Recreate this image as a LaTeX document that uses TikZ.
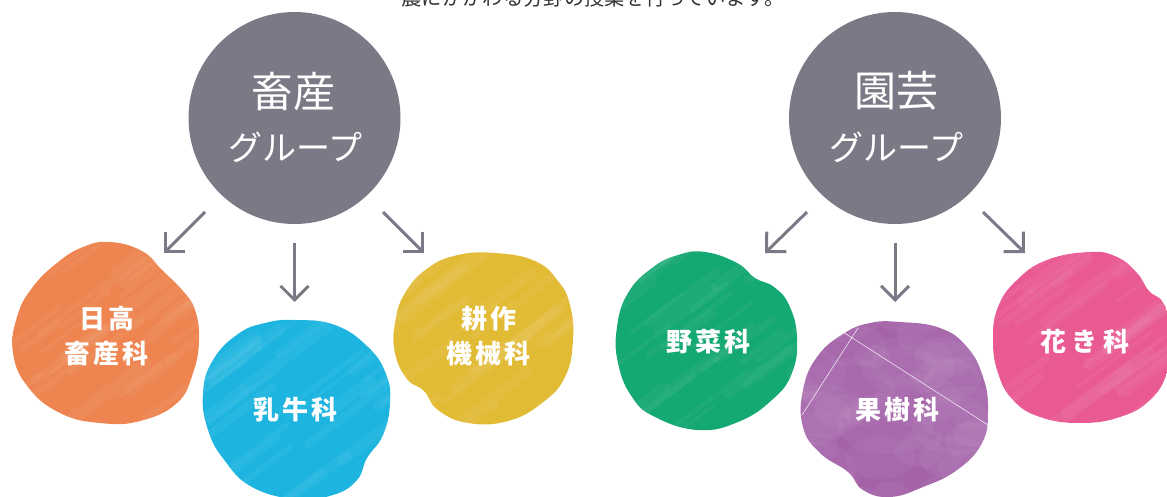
\documentclass[tikz,border=0pt]{standalone}
\usepackage{fontspec}
\newfontfamily\jp{Noto Sans CJK JP}
\newfontfamily\jplab{Noto Sans CJK JP}[LetterSpace=12]
\newfontfamily\jplabw{Noto Sans CJK JP}[LetterSpace=22]
\usetikzlibrary{arrows.meta}
\definecolor{grpgray}{HTML}{797A85}
\definecolor{introtxt}{HTML}{333333}
\definecolor{cOrange}{HTML}{EE8550}
\definecolor{cBlue}{HTML}{1DB5DF}
\definecolor{cYellow}{HTML}{E2BB35}
\definecolor{cGreen}{HTML}{14A872}
\definecolor{cPurple}{HTML}{A462A9}
\definecolor{cPink}{HTML}{E95A93}
\tikzset{
  groupcircle/.style={circle, fill=grpgray, minimum size=212pt, inner sep=0pt},
  grouptitle/.style={text=white, inner sep=0pt, font=\jp\fontsize{42}{42}\selectfont},
  groupsub/.style={text=white, inner sep=0pt, font=\jp\fontsize{34}{34}\selectfont},
  flow/.style={draw=grpgray, line width=3pt, -{Straight Barb[length=14pt,width=28pt]}},
  deptlabel/.style={text=white, align=center, inner sep=0pt, xshift=1.6pt,
    font=\jplab\bfseries\fontsize{26}{35}\selectfont},
  deptlabelwide/.style={text=white, align=center, inner sep=0pt, xshift=2.9pt,
    font=\jplabw\bfseries\fontsize{26}{35}\selectfont},
  streak/.style={draw=white, line cap=round, opacity=0.045},
  seam/.style={draw=white!85!cPurple, line width=0.6pt},
}
% painted texture: faint diagonal strokes around (#1,#2)
\newcommand\paintstreaks[3]{%
  \pgfmathsetseed{#3}%
  \foreach \k in {1,...,40}{%
    \pgfmathsetmacro\xa{#1-110+220*rnd}%
    \pgfmathsetmacro\ya{#2-100+200*rnd}%
    \pgfmathsetmacro\lw{3+10*rnd}%
    \pgfmathsetmacro\ln{30+60*rnd}%
    \draw[streak, line width=\lw pt] (\xa,\ya) -- ++(\ln,-0.75*\ln);
  }%
}
% watercolour mottling: faint soft patches around (#1,#2)
\newcommand\paintmottle[3]{%
  \pgfmathsetseed{#3}%
  \foreach \k in {1,...,45}{%
    \pgfmathsetmacro\xa{#1-100+200*rnd}%
    \pgfmathsetmacro\ya{#2-100+200*rnd}%
    \pgfmathsetmacro\rr{10+22*rnd}%
    \fill[white, opacity=0.04] (\xa,\ya) ellipse ({1.6*\rr pt} and {\rr pt});
  }%
}
\begin{document}
\begin{tikzpicture}[x=1pt,y=-1pt]
\useasboundingbox (0,0) rectangle (1167,497);
\clip (0,0) rectangle (1167,497);

% intro line (cut by the top edge, as in the original)
\node[anchor=base, inner sep=0pt, text=introtxt, font=\jp\fontsize{20.3}{20}\selectfont]
  (intro) at (593,6) {農にかかわる分野の授業を行っています。};

% group circles
\node[groupcircle] (gA) at (294.5,118) {};
\node[grouptitle] (gAt) at (293,91) {畜産};
\node[groupsub] (gAs) at (295,147) {グループ};
\node[groupcircle] (gB) at (895,118) {};
\node[grouptitle] (gBt) at (896,91) {園芸};
\node[groupsub] (gBs) at (896,147) {グループ};

% blobs
\begin{scope}
\clip plot[smooth cycle, tension=0.75] coordinates {
 (110,242) (142,251) (162,270) (183,291) (195,310) (199,340) (193,373) (177,403)
 (140,421) (100,423) (60,413) (28,387) (13,353) (17,317) (32,288) (57,263) (83,247)};
\fill[cOrange] (0,230) rectangle (210,430);
\paintstreaks{106}{333}{11}
\end{scope}
\begin{scope}
\clip plot[smooth cycle, tension=0.75] coordinates {
 (295,320) (335,325) (368,347) (386,374) (390,403) (383,435) (367,458) (357,480)
 (333,495) (295,499) (252,487) (225,461) (208,430) (203,393) (213,360) (238,334) (265,323)};
\fill[cBlue] (195,310) rectangle (400,500);
\paintstreaks{296}{410}{23}
\end{scope}
\begin{scope}
\clip plot[smooth cycle, tension=0.75] coordinates {
 (495,253) (535,261) (558,281) (570,305) (573,340) (565,377) (542,403) (508,421)
 (468,423) (438,410) (424,391) (407,379) (395,353) (395,323) (405,293) (428,268) (458,255)};
\fill[cYellow] (385,245) rectangle (580,430);
\paintstreaks{485}{338}{37}
\end{scope}
\begin{scope}
\clip plot[smooth cycle, tension=0.75] coordinates {
 (705,252) (737,263) (755,278) (774,287) (789,305) (797,337) (792,373) (772,400)
 (738,422) (698,430) (655,417) (632,397) (618,363) (617,327) (628,293) (652,268) (678,255)};
\fill[cGreen] (605,245) rectangle (805,435);
\paintstreaks{707}{342}{41}
\end{scope}
\begin{scope}
\clip plot[smooth cycle, tension=0.75] coordinates {
 (900,322) (940,328) (967,347) (983,377) (988,410) (982,443) (957,470) (923,487)
 (890,497) (863,490) (848,472) (820,453) (803,427) (803,390) (817,357) (843,334) (870,323)};
\fill[cPurple] (795,315) rectangle (995,500);
\paintmottle{896}{410}{53}
\end{scope}
\begin{scope}
\clip plot[smooth cycle, tension=0.75] coordinates {
 (1090,252) (1117,257) (1137,273) (1149,291) (1162,301) (1169,320) (1170,345) (1167,373)
 (1150,400) (1120,417) (1080,423) (1040,417) (1013,400) (998,373) (993,340) (998,307) (1017,280) (1047,260)};
\fill[cPink] (985,245) rectangle (1170,430);
\paintstreaks{1082}{338}{67}
\end{scope}

% thin seams across the purple blob
\coordinate (s1a) at (843,332);
\coordinate (s1b) at (988,425);
\coordinate (s2a) at (858,328);
\coordinate (s2b) at (802,415);
\draw[seam] (s1a) -- (s1b);
\draw[seam] (s2a) -- (s2b);

% department labels
\node[deptlabel] (dA1) at (105,336) {日高\\畜産科};
\node[deptlabel] (dA2) at (294,410) {乳牛科};
\node[deptlabel] (dA3) at (487,336) {耕作\\機械科};
\node[deptlabel] (dB1) at (707,342) {野菜科};
\node[deptlabel] (dB2) at (896,410) {果樹科};
\node[deptlabelwide] (dB3) at (1082,342) {花き科};

% arrows
\coordinate (a1s) at (205,212);  \coordinate (a1e) at (164,253);
\coordinate (a2s) at (294.5,243); \coordinate (a2e) at (294.5,302);
\coordinate (a3s) at (383,212);  \coordinate (a3e) at (424,253);
\coordinate (b1s) at (807,212);  \coordinate (b1e) at (765,253);
\coordinate (b2s) at (895,243);  \coordinate (b2e) at (895,302);
\coordinate (b3s) at (983,212);  \coordinate (b3e) at (1025,253);
\draw[flow] (a1s) -- (a1e);
\draw[flow] (a2s) -- (a2e);
\draw[flow] (a3s) -- (a3e);
\draw[flow] (b1s) -- (b1e);
\draw[flow] (b2s) -- (b2e);
\draw[flow] (b3s) -- (b3e);
\end{tikzpicture}
\end{document}
